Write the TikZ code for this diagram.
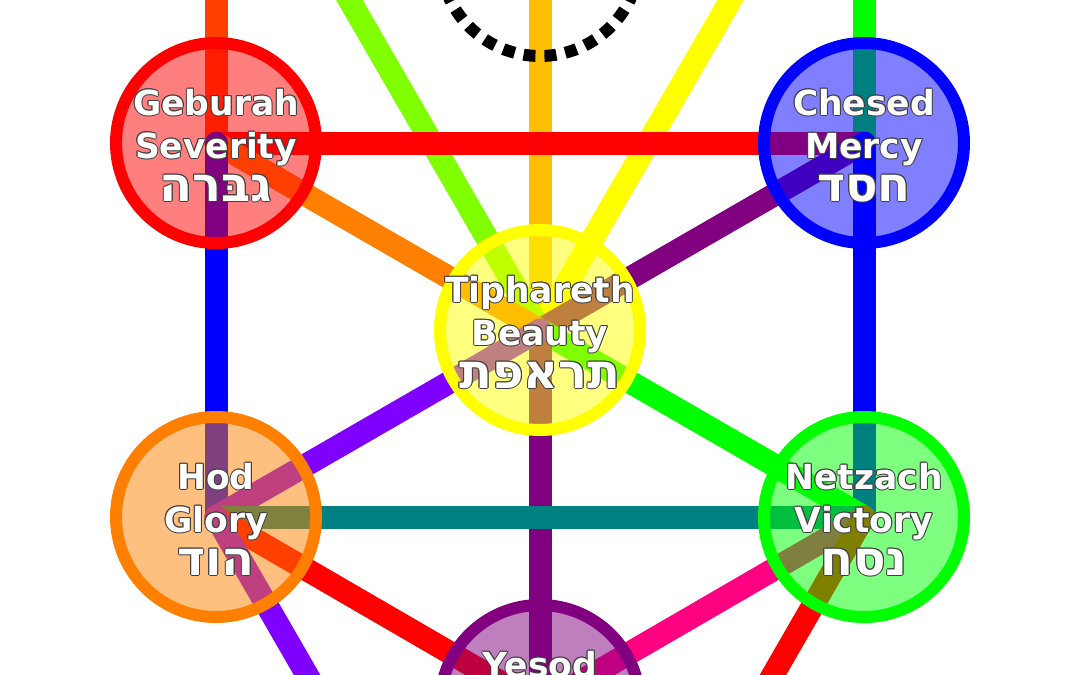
\documentclass[tikz,border=0pt]{standalone}
\usepackage{fontspec}
\setmainfont{DejaVu Sans}
\newfontfamily\heb[Script=Hebrew]{DejaVu Sans}
\TeXXeTstate=1
\pgfdeclarelayer{bg}
\pgfsetlayers{bg,main}
\definecolor{cGold}{RGB}{255,191,0}
\definecolor{cYellow}{RGB}{255,255,0}
\definecolor{cGreen}{RGB}{0,255,0}
\definecolor{cChart}{RGB}{128,255,0}
\definecolor{cOrRed}{RGB}{255,64,0}
\definecolor{cRed}{RGB}{255,0,0}
\definecolor{cPurple}{RGB}{128,0,128}
\definecolor{cBlue}{RGB}{0,0,255}
\definecolor{cOrange}{RGB}{255,128,0}
\definecolor{cViolet}{RGB}{128,0,255}
\definecolor{cTeal}{RGB}{0,128,128}
\definecolor{cPink}{RGB}{255,0,128}
\definecolor{olc}{RGB}{64,64,64}
\newcommand\olcopy[2]{\rlap{\kern#1\raise#2\hbox{\color{olc}\copy0}}}
\newcommand\olt[1]{\setbox0\hbox{#1}\leavevmode
 \olcopy{1pt}{0pt}\olcopy{-1pt}{0pt}\olcopy{0pt}{1pt}\olcopy{0pt}{-1pt}%
 \olcopy{.7pt}{.7pt}\olcopy{-.7pt}{.7pt}\olcopy{.7pt}{-.7pt}\olcopy{-.7pt}{-.7pt}%
 \hbox{\color{white}\copy0}}
\tikzset{
 seph/.style={circle, minimum size=200pt, inner sep=0pt, line width=12pt, draw=#1, fill=#1, fill opacity=0.5, draw opacity=1},
 route/.style={line width=23pt, line cap=round, draw=#1},
 lab/.style={anchor=base, inner sep=0pt, font=\fontsize{34.5}{40}\selectfont\bfseries},
 hlab/.style={anchor=base, inner sep=0pt, font=\fontsize{48}{52}\selectfont\heb\bfseries}
}
\begin{document}
\begin{tikzpicture}[x=1pt,y=-1pt]
\useasboundingbox (0,0) rectangle (1080,675);
% off-page sephiroth
\coordinate (ket) at (540,-418);
\coordinate (bin) at (216,-231);
\coordinate (chok) at (864,-231);
\coordinate (mal) at (540,1079);
% sephiroth
\node[seph=cRed] (geb) at (216,143) {};
\node[seph=cBlue] (ches) at (864,143) {};
\node[seph=cYellow] (tip) at (540,330) {};
\node[seph=cOrange] (hod) at (216,517) {};
\node[seph=cGreen] (netz) at (864,517) {};
\node[seph=cPurple] (yes) at (540,705) {};
\node[circle, minimum size=200pt, inner sep=0pt, line width=12pt, draw=black, dash pattern=on 12pt off 9pt, dash phase=7.3pt] (daat) at (540,-44) {};
% paths
\begin{pgfonlayer}{bg}
\fill[white] (0,0) rectangle (1080,675);
\clip (0,0) rectangle (1080,675);
\draw[route=cGold] (ket) -- (tip.center);
\draw[route=cYellow] (chok) -- (tip.center);
\draw[route=cGreen] (chok) -- (ches.center);
\draw[route=cChart] (bin) -- (tip.center);
\draw[route=cOrRed] (bin) -- (geb.center);
\draw[route=cRed] (ches.center) -- (geb.center);
\draw[route=cPurple] (ches.center) -- (tip.center);
\draw[route=cBlue] (ches.center) -- (netz.center);
\draw[route=cOrange] (geb.center) -- (tip.center);
\draw[route=cBlue] (geb.center) -- (hod.center);
\draw[route=cGreen] (tip.center) -- (netz.center);
\draw[route=cPurple] (tip.center) -- (yes.center);
\draw[route=cViolet] (tip.center) -- (hod.center);
\draw[route=cTeal] (netz.center) -- (hod.center);
\draw[route=cPink] (netz.center) -- (yes.center);
\draw[route=cRed] (netz.center) -- (mal);
\draw[route=cRed] (hod.center) -- (yes.center);
\draw[route=cViolet] (hod.center) -- (mal);
\end{pgfonlayer}
% labels
\node[lab] (geb-a) at (216,115) {\olt{Geburah}};
\node[lab] (geb-b) at (216,158) {\olt{Severity}};
\node[hlab] (geb-c) at (216,201) {\olt{\beginR גבּרה\endR}};
\node[lab] (ches-a) at (864,115) {\olt{Chesed}};
\node[lab] (ches-b) at (864,158) {\olt{Mercy}};
\node[hlab] (ches-c) at (864,201) {\olt{\beginR חסד\endR}};
\node[lab] (tip-a) at (540,302) {\olt{Tiphareth}};
\node[lab] (tip-b) at (540,345) {\olt{Beauty}};
\node[hlab] (tip-c) at (540,388) {\olt{\beginR תראפּת\endR}};
\node[lab] (hod-a) at (216,489) {\olt{Hod}};
\node[lab] (hod-b) at (216,532) {\olt{Glory}};
\node[hlab] (hod-c) at (216,575) {\olt{\beginR הוד\endR}};
\node[lab] (netz-a) at (864,489) {\olt{Netzach}};
\node[lab] (netz-b) at (864,532) {\olt{Victory}};
\node[hlab] (netz-c) at (864,575) {\olt{\beginR נסח\endR}};
\node[lab] (yes-a) at (540,677) {\olt{Yesod}};
\end{tikzpicture}
\end{document}
